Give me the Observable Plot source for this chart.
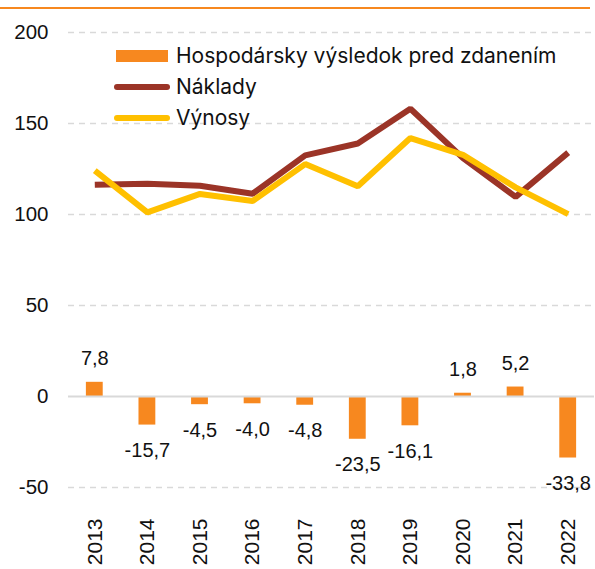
<!DOCTYPE html>
<html><head><meta charset="utf-8">
<script src="https://cdn.jsdelivr.net/npm/d3@7"></script>
<script src="https://cdn.jsdelivr.net/npm/@observablehq/plot@0.6"></script>
<style>
body{margin:0;background:#fff;}
#wrap{position:relative;width:595px;height:569px;overflow:hidden;}
#topline{position:absolute;left:0;top:7px;width:590px;height:2px;background:#F7881F;}
#legend{position:absolute;left:114px;top:40px;font-family:Inter,sans-serif;font-size:21px;color:#111;}
.row{display:flex;align-items:center;height:31px;}
.row svg{margin-right:4px;}
</style></head>
<body><div id="wrap"><div id="chart"></div><div id="topline"></div><div id="legend"></div></div>
<script>
const years = ["2013","2014","2015","2016","2017","2018","2019","2020","2021","2022"];
const profit = [7.8,-15.7,-4.5,-4.0,-4.8,-23.5,-16.1,1.8,5.2,-33.8];
const costs = [116.3,116.9,115.8,111.4,132.5,139.0,158.1,131.0,109.7,134.0];
const revenues = [124.1,101.2,111.3,107.4,127.7,115.5,142.0,132.8,114.9,100.2];
const yTicks = [-50,0,50,100,150,200];
const seriesNames = ["Hospodársky výsledok pred zdanením","Náklady","Výnosy"];
const seriesColors = ["#F7881F","#9B3427","#FFC000"];

const bars = years.map((y,i)=>({year:y, value:profit[i]}));
const lines = [
  ...years.map((y,i)=>({year:y, value:costs[i], series:seriesNames[1]})),
  ...years.map((y,i)=>({year:y, value:revenues[i], series:seriesNames[2]}))
];
const fmt = d => d.value.toFixed(1).replace(".", ",");

const chart = Plot.plot({
  width:595, height:569,
  marginTop:32, marginBottom:82, marginLeft:68, marginRight:1,
  x:{type:"band", domain:years, paddingInner:0.68, paddingOuter:0.34, round:false},
  y:{domain:[-50,200]},
  color:{domain:seriesNames, range:seriesColors},
  style:{fontFamily:"'Liberation Sans', Arial, sans-serif", fontSize:"20px", color:"#111", background:"white"},
  marks:[
    Plot.ruleY(yTicks.filter(d=>d!==0), {stroke:"#D9D9D9", strokeWidth:1.5, strokeDasharray:"6,5"}),
    Plot.axisY({ticks:yTicks, tickFormat:d=>String(d), tickSize:0, tickPadding:20, label:null, fontSize:20.5, letterSpacing:"1.2px"}),
    Plot.axisX({tickSize:0, tickRotate:-90, tickPadding:31, label:null, fontSize:21, letterSpacing:"1px"}),
    Plot.barY(bars, {x:"year", y:"value", fill:seriesColors[0]}),
    Plot.ruleY([0], {stroke:"#D9D9D9", strokeWidth:2}),
    Plot.line(lines, {x:"year", y:"value", z:"series", stroke:"series", strokeWidth:6, strokeLinejoin:"miter", strokeLinecap:"butt"}),
    Plot.text(bars.filter(d=>d.value>0), {x:"year", y:"value", text:fmt, lineAnchor:"bottom", dy:-17, fontSize:20, letterSpacing:"1.3px", fill:"#111"}),
    Plot.text(bars.filter(d=>d.value<0), {x:"year", y:"value", text:fmt, lineAnchor:"top", dy:18, fontSize:20, letterSpacing:"1.3px", fill:"#111"})
  ]
});
document.getElementById("chart").appendChild(chart);

const legend = document.getElementById("legend");
seriesNames.forEach((name,i)=>{
  const row = document.createElement("div");
  row.className = "row";
  const sw = i===0
    ? `<svg width="58" height="14"><rect x="2" y="1" width="52" height="12" fill="${seriesColors[i]}"/></svg>`
    : `<svg width="58" height="14"><line x1="3" y1="7" x2="53" y2="7" stroke="${seriesColors[i]}" stroke-width="6" stroke-linecap="round"/></svg>`;
  row.innerHTML = sw + `<span>${name}</span>`;
  legend.appendChild(row);
});
</script>
</body></html>
